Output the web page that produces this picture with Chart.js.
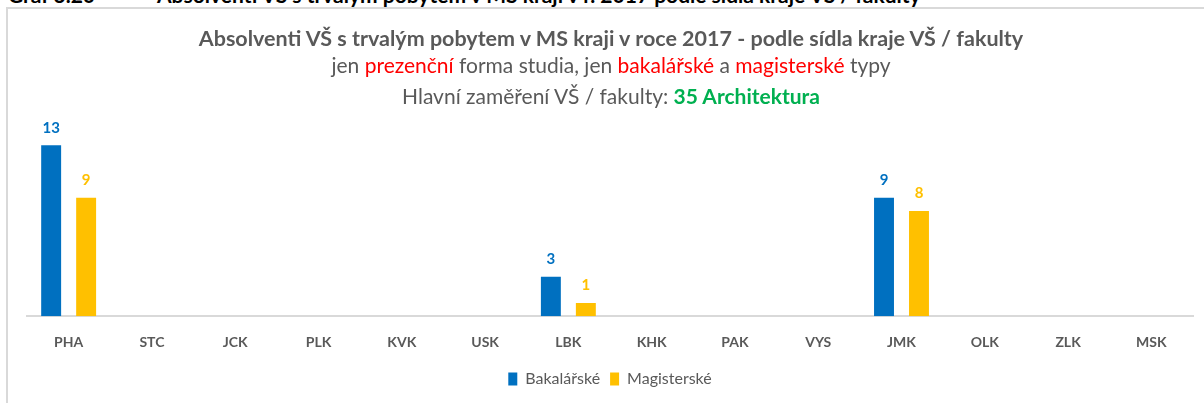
<!DOCTYPE html>
<html>
<head>
<meta charset="utf-8">
<script src="https://cdn.jsdelivr.net/npm/chart.js@4/dist/chart.umd.min.js"></script>
<style>
  html, body { margin: 0; padding: 0; background: #fff; overflow: hidden; }
  body { width: 1204px; height: 403px; position: relative; font-family: Lato, sans-serif; }
  #caption { position: absolute; top: -18px; left: 8px; font: bold 21px Lato, sans-serif; color: #000; white-space: nowrap; }
  #caption span { position: absolute; left: 149px; top: 0; }
  #frame { position: absolute; left: 6px; top: 7px; width: 1198px; height: 396px; border-left: 2px solid #d9d9d9; border-top: 2px solid #d9d9d9; }
  #title { position: absolute; left: 0; top: 0; width: 1222px; text-align: center; color: #595959; pointer-events: none; }
  #title div { white-space: nowrap; }
  .t1 { font: bold 21.5px Lato, sans-serif; position: absolute; top: 25px; width: 100%; }
  .t2 { font: 21px Lato, sans-serif; position: absolute; top: 52px; width: 100%; }
  .t3 { font: 21px Lato, sans-serif; position: absolute; top: 83px; width: 100%; }
  .red { color: #ff0000; }
  .green { color: #00b050; font-weight: bold; }
  canvas { position: absolute; left: 8px; top: 9px; }
</style>
</head>
<body>
<div id="caption">Graf 3.20<span>Absolventi VŠ s trvalým pobytem v MS kraji v r. 2017 podle sídla kraje VŠ / fakulty</span></div>
<div id="frame"></div>
<canvas id="chart" width="1196" height="394"></canvas>
<div id="title">
  <div class="t1">Absolventi VŠ s trvalým pobytem v MS kraji v roce 2017 - podle sídla kraje VŠ / fakulty</div>
  <div class="t2">jen <span class="red">prezenční</span> forma studia, jen <span class="red">bakalářské</span> a <span class="red">magisterské</span> typy</div>
  <div class="t3">Hlavní zaměření VŠ / fakulty: <span class="green">35 Architektura</span></div>
</div>
<script>
const categories = ['PHA', 'STC', 'JCK', 'PLK', 'KVK', 'USK', 'LBK', 'KHK', 'PAK', 'VYS', 'JMK', 'OLK', 'ZLK', 'MSK'];
const bakalarske = [13, 0, 0, 0, 0, 0, 3, 0, 0, 0, 9, 0, 0, 0];
const magisterske = [9, 0, 0, 0, 0, 0, 1, 0, 0, 0, 8, 0, 0, 0];

const blue = '#0070c0';
const yellow = '#ffc000';

// value labels above the bars, same colour as the series
const valueLabels = {
  id: 'valueLabels',
  afterDatasetsDraw(chart) {
    const c = chart.ctx;
    c.save();
    c.font = 'bold 15px Lato, sans-serif';
    c.textAlign = 'center';
    c.textBaseline = 'bottom';
    chart.data.datasets.forEach((ds, i) => {
      chart.getDatasetMeta(i).data.forEach((bar, j) => {
        if (!ds.data[j]) return;
        c.fillStyle = ds.backgroundColor;
        c.fillText(ds.data[j], bar.x, bar.y - 10);
      });
    });
    c.restore();
  }
};

const ctx = document.getElementById('chart').getContext('2d');
const chart = new Chart(ctx, {
  type: 'bar',
  data: {
    labels: categories,
    datasets: [
      { label: 'Bakalářské', data: bakalarske, backgroundColor: blue },
      { label: 'Magisterské', data: magisterske, backgroundColor: yellow }
    ]
  },
  options: {
    responsive: false,
    animation: false,
    devicePixelRatio: 1,
    categoryPercentage: 0.84,
    barPercentage: 0.57,
    layout: { padding: { top: 123, left: 19, right: 11, bottom: 6 } },
    scales: {
      x: {
        grid: { display: false },
        border: { color: '#d9d9d9', width: 2 },
        ticks: { color: '#595959', font: { family: 'Lato', size: 14, weight: 'bold' }, padding: 10 }
      },
      y: { display: false, min: 0, max: 14 }
    },
    plugins: {
      legend: {
        position: 'bottom',
        labels: {
          color: '#595959',
          font: { family: 'Lato', size: 16 },
          boxWidth: 9,
          boxHeight: 13,
          padding: 10
        }
      },
      tooltip: { enabled: false }
    }
  },
  plugins: [valueLabels]
});
</script>
</body>
</html>
